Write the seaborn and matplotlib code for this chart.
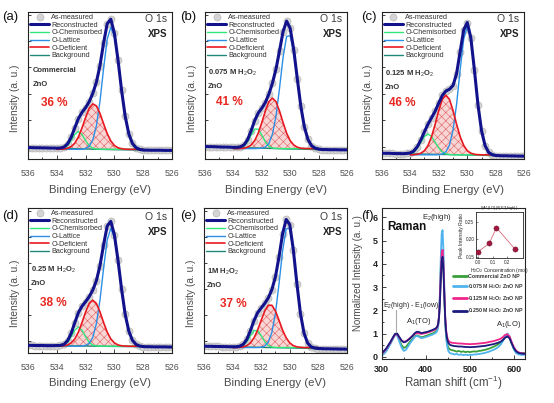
import matplotlib
matplotlib.use("Agg")
import matplotlib.pyplot as plt
import seaborn as sns
from matplotlib.ticker import MultipleLocator

# -----------------------------
# XPS O 1s data
# -----------------------------
be_full = [536.0, 535.75, 535.5, 535.25, 535.0, 534.75, 534.5, 534.25, 534.0, 533.75,
           533.5, 533.25, 533.0, 532.75, 532.5, 532.25, 532.0, 531.75, 531.5, 531.25,
           531.0, 530.75, 530.5, 530.25, 530.0, 529.75, 529.5, 529.25, 529.0, 528.75,
           528.5, 528.25, 528.0, 527.75, 527.5, 527.25, 527.0, 526.75, 526.5, 526.25, 526.0]
be_comp = [534.0, 533.75, 533.5, 533.25, 533.0, 532.75, 532.5, 532.25, 532.0, 531.75,
           531.5, 531.25, 531.0, 530.75, 530.5, 530.25, 530.0, 529.75, 529.5, 529.25,
           529.0, 528.75, 528.5, 528.25, 528.0]
be_bg = [536, 534, 532, 530, 528, 526]
be_ticks = [536, 534, 532, 530, 528, 526]

# (a) commercial ZnO
a_meas = [8.2, 8.2, 8.1, 8.1, 8.0, 8.0, 7.9, 7.9, 7.8, 7.9, 8.6, 10.9, 15.7, 22.5, 29.1,
          33.6, 37.0, 41.3, 47.3, 55.4, 67.4, 83.6, 97.5, 100.8, 90.6, 71.4, 49.4, 30.7,
          18.1, 11.2, 8.1, 6.9, 6.4, 6.4, 6.3, 6.3, 6.3, 6.3, 6.2, 6.2, 6.2]
a_chem = [7.0, 7.2, 7.8, 9.6, 13.3, 17.7, 19.8, 17.7, 13.3, 9.6, 7.8, 7.2, 7.0, 7.0, 7.0,
          7.0, 7.0, 7.0, 7.0, 7.0, 7.0, 7.0, 7.0, 7.0, 7.0]
a_latt = [7.0, 7.0, 7.0, 7.0, 7.0, 7.0, 7.0, 7.0, 7.6, 9.1, 13.7, 23.9, 41.7, 65.3, 86.4,
          95.0, 88.2, 70.6, 49.4, 31.0, 18.6, 11.7, 8.6, 7.5, 7.1]
a_defi = [7.0, 7.1, 7.2, 7.7, 8.9, 11.4, 15.9, 22.4, 29.9, 36.5, 39.7, 38.3, 32.8, 25.4,
          18.3, 13.0, 9.7, 8.1, 7.4, 7.1, 7.0, 7.0, 7.0, 7.0, 7.0]
a_bg = [8.2, 7.8, 7.2, 6.7, 6.4, 6.2]

# (b) 0.075 M H2O2
b_meas = [9.0, 8.9, 8.9, 8.8, 8.7, 8.6, 8.6, 8.5, 8.4, 8.4, 8.8, 10.2, 13.9, 20.4, 27.7,
          33.1, 36.6, 40.7, 46.8, 54.7, 64.8, 78.0, 91.9, 99.4, 94.2, 78.9, 58.0, 38.0,
          23.1, 14.1, 9.6, 7.8, 7.1, 6.8, 6.8, 6.7, 6.7, 6.7, 6.6, 6.6, 6.6]
b_chem = [7.5, 7.6, 7.9, 9.2, 12.3, 17.3, 21.5, 21.5, 17.3, 12.3, 9.2, 7.9, 7.6, 7.5, 7.5,
          7.5, 7.5, 7.5, 7.5, 7.5, 7.5, 7.5, 7.5, 7.5, 7.5]
b_latt = [7.5, 7.5, 7.5, 7.5, 7.5, 7.5, 7.5, 7.6, 7.8, 8.6, 11.2, 17.8, 30.9, 51.0, 73.3,
          88.4, 88.8, 76.6, 57.5, 38.1, 23.5, 14.6, 10.2, 8.4, 7.8]
b_defi = [7.5, 7.5, 7.6, 7.8, 8.5, 10.1, 13.2, 18.6, 26.2, 34.6, 41.3, 43.9, 41.3, 34.6,
          26.2, 18.6, 13.2, 10.1, 8.5, 7.8, 7.6, 7.5, 7.5, 7.5, 7.5]
b_bg = [9.0, 8.4, 7.8, 7.2, 6.8, 6.6]

# (c) 0.125 M H2O2
c_meas = [4.2, 4.1, 4.1, 4.0, 3.9, 3.9, 3.8, 4.0, 4.4, 5.7, 8.9, 13.8, 19.7, 25.2, 29.8,
          34.5, 40.3, 45.8, 49.0, 50.3, 52.9, 61.5, 77.4, 93.1, 98.4, 87.4, 64.3, 39.2,
          20.4, 9.6, 4.7, 3.1, 2.5, 2.4, 2.3, 2.3, 2.2, 2.2, 2.1, 2.1, 2.0]
c_chem = [3.7, 5.0, 7.9, 12.1, 16.2, 18.0, 16.2, 12.1, 7.9, 5.0, 3.7, 3.2, 3.0, 3.0, 3.0,
          3.0, 3.0, 3.0, 3.0, 3.0, 3.0, 3.0, 3.0, 3.0, 3.0]
c_latt = [3.0, 3.0, 3.0, 3.0, 3.0, 3.0, 3.0, 3.0, 3.1, 3.6, 5.2, 10.0, 20.8, 39.4, 64.2,
          86.4, 95.5, 86.4, 64.2, 39.4, 20.8, 10.0, 5.2, 3.6, 3.1]
c_defi = [3.0, 3.1, 3.4, 4.2, 6.0, 9.8, 16.2, 25.1, 35.0, 43.0, 46.0, 43.0, 35.0, 25.1,
          16.2, 9.8, 6.0, 4.2, 3.4, 3.1, 3.0, 3.0, 3.0, 3.0, 3.0]
c_bg = [4.2, 3.7, 3.3, 2.9, 2.4, 2.0]

# (d) 0.25 M H2O2
d_meas = [5.6, 5.6, 5.5, 5.5, 5.5, 5.4, 5.4, 5.4, 5.5, 5.6, 6.4, 9.0, 14.4, 22.2, 29.5,
          34.2, 37.5, 41.2, 46.0, 52.9, 63.9, 79.1, 92.8, 96.2, 86.4, 67.8, 46.5, 28.2,
          16.0, 9.3, 6.3, 5.1, 4.7, 4.6, 4.6, 4.5, 4.5, 4.5, 4.5, 4.4, 4.4]
d_chem = [5.0, 5.2, 5.8, 7.8, 11.9, 16.7, 19.0, 16.7, 11.9, 7.8, 5.8, 5.2, 5.0, 5.0, 5.0,
          5.0, 5.0, 5.0, 5.0, 5.0, 5.0, 5.0, 5.0, 5.0, 5.0]
d_latt = [5.0, 5.0, 5.0, 5.0, 5.0, 5.0, 5.0, 5.1, 5.6, 7.1, 11.5, 21.5, 38.9, 61.9, 82.6,
          91.0, 84.3, 67.1, 46.4, 28.4, 16.3, 9.6, 6.6, 5.5, 5.1]
d_defi = [5.0, 5.1, 5.3, 5.9, 7.4, 10.3, 15.3, 22.3, 30.0, 36.2, 38.6, 36.2, 30.0, 22.3,
          15.3, 10.3, 7.4, 5.9, 5.3, 5.1, 5.0, 5.0, 5.0, 5.0, 5.0]
d_bg = [5.6, 5.4, 5.1, 4.8, 4.6, 4.4]

# (e) 1 M H2O2
e_meas = [5.0, 4.9, 4.9, 4.8, 4.8, 4.7, 4.7, 4.6, 4.6, 4.6, 5.0, 6.4, 10.0, 16.4, 23.7,
          29.4, 32.9, 36.2, 40.3, 46.3, 55.8, 70.3, 87.1, 97.6, 93.9, 75.6, 50.7, 28.8,
          14.5, 7.3, 4.5, 3.6, 3.3, 3.2, 3.1, 3.1, 3.0, 3.0, 2.9, 2.9, 2.8]
e_chem = [4.0, 4.1, 4.4, 5.5, 8.3, 12.7, 16.4, 16.4, 12.7, 8.3, 5.5, 4.4, 4.1, 4.0, 4.0,
          4.0, 4.0, 4.0, 4.0, 4.0, 4.0, 4.0, 4.0, 4.0, 4.0]
e_latt = [4.0, 4.0, 4.0, 4.0, 4.0, 4.0, 4.0, 4.0, 4.3, 5.1, 7.9, 15.0, 29.1, 50.6, 74.6,
          90.8, 90.8, 74.6, 50.6, 29.1, 15.0, 7.9, 5.1, 4.3, 4.1]
e_defi = [4.0, 4.0, 4.2, 4.5, 5.4, 7.4, 11.1, 16.7, 23.9, 30.7, 34.9, 34.9, 30.7, 23.9,
          16.7, 11.1, 7.4, 5.4, 4.5, 4.2, 4.0, 4.0, 4.0, 4.0, 4.0]
e_bg = [5.0, 4.6, 4.1, 3.7, 3.2, 2.8]

# -----------------------------
# Raman data
# -----------------------------
raman_shift = [300, 305, 310, 315, 320, 325, 330, 335, 340, 345, 350, 355, 360, 365, 370,
               375, 380, 385, 390, 395, 400, 405, 410, 415, 420,
               422, 424, 426, 428, 430, 432, 434, 436, 438, 440, 442, 444, 446, 448, 450,
               452, 454, 456,
               460, 465, 470, 475, 480, 485, 490, 495, 500, 505, 510, 515, 520, 525, 530,
               535, 540, 545, 550, 555, 560, 565, 570, 575, 580, 585, 590, 595, 600, 605,
               610, 615, 620, 625]
int_commercial = [0.10, 0.18, 0.28, 0.42, 0.58, 0.77, 0.94, 0.95, 0.72, 0.50, 0.38, 0.42,
                  0.55, 0.67, 0.77, 0.88, 0.92, 0.88, 0.84, 0.86, 0.90, 0.93, 0.97, 1.00, 1.05,
                  1.08, 1.12, 1.18, 1.34, 1.72, 2.55, 3.80, 4.50, 4.60, 3.90, 2.60, 1.45, 0.90,
                  0.60, 0.45, 0.37, 0.33, 0.30,
                  0.28, 0.26, 0.22, 0.25, 0.21, 0.23, 0.20, 0.22, 0.20, 0.22, 0.23, 0.22, 0.25,
                  0.26, 0.28, 0.30, 0.33, 0.36, 0.40, 0.44, 0.49, 0.55, 0.62, 0.74, 0.87, 0.92,
                  0.82, 0.56, 0.32, 0.20, 0.17, 0.15, 0.16, 0.14]
int_075 = [0.05, 0.12, 0.22, 0.38, 0.55, 0.75, 0.93, 0.92, 0.65, 0.40, 0.25, 0.30, 0.45,
           0.60, 0.72, 0.85, 0.90, 0.85, 0.80, 0.82, 0.85, 0.88, 0.92, 0.95, 1.00,
           1.02, 1.06, 1.12, 1.30, 1.75, 2.80, 4.30, 5.30, 5.45, 4.60, 3.00, 1.60, 0.90,
           0.50, 0.32, 0.22, 0.17, 0.15,
           0.13, 0.10, 0.12, 0.08, 0.10, 0.07, 0.09, 0.07, 0.09, 0.08, 0.10, 0.10, 0.12,
           0.13, 0.15, 0.17, 0.20, 0.23, 0.27, 0.31, 0.36, 0.43, 0.53, 0.68, 0.90, 1.00,
           0.88, 0.58, 0.30, 0.15, 0.10, 0.09, 0.08, 0.09]
int_125 = [0.12, 0.22, 0.33, 0.48, 0.62, 0.80, 0.95, 0.97, 0.82, 0.70, 0.64, 0.67, 0.74,
           0.82, 0.90, 0.98, 1.02, 1.00, 0.98, 1.00, 1.02, 1.05, 1.08, 1.12, 1.16,
           1.19, 1.22, 1.28, 1.42, 1.75, 2.50, 3.60, 4.40, 4.60, 4.00, 2.80, 1.75, 1.15,
           0.88, 0.75, 0.68, 0.64, 0.62,
           0.60, 0.59, 0.58, 0.57, 0.57, 0.56, 0.55, 0.55, 0.54, 0.55, 0.55, 0.56, 0.57,
           0.58, 0.59, 0.60, 0.62, 0.64, 0.66, 0.68, 0.71, 0.74, 0.78, 0.85, 0.94, 0.97,
           0.87, 0.62, 0.40, 0.26, 0.19, 0.16, 0.15, 0.14]
int_250 = [0.15, 0.25, 0.35, 0.50, 0.65, 0.82, 0.98, 1.00, 0.85, 0.70, 0.62, 0.65, 0.72,
           0.80, 0.90, 1.02, 1.08, 1.06, 1.02, 1.04, 1.06, 1.08, 1.12, 1.15, 1.20,
           1.22, 1.25, 1.30, 1.42, 1.70, 2.30, 3.30, 4.10, 4.30, 3.70, 2.60, 1.65, 1.10,
           0.80, 0.65, 0.57, 0.53, 0.50,
           0.48, 0.46, 0.45, 0.44, 0.44, 0.43, 0.42, 0.42, 0.41, 0.42, 0.42, 0.43, 0.44,
           0.45, 0.46, 0.47, 0.49, 0.51, 0.53, 0.55, 0.58, 0.61, 0.65, 0.72, 0.82, 0.87,
           0.79, 0.56, 0.36, 0.23, 0.17, 0.14, 0.13, 0.13]
raman_labels = ["Commercial ZnO NP", "0.075 M H$_2$O$_2$ ZnO NP",
                "0.125 M H$_2$O$_2$ ZnO NP", "0.250 M H$_2$O$_2$ ZnO NP"]

# inset: peak intensity ratio
conc_mol = [0.0, 0.075, 0.125, 0.25]
peak_ratio = [0.166, 0.189, 0.233, 0.174]

# -----------------------------
# Style
# -----------------------------
sns.set_style("ticks")
plt.rcParams["font.family"] = ["Liberation Sans", "DejaVu Sans"]
plt.rcParams["mathtext.fontset"] = "custom"
plt.rcParams["mathtext.rm"] = "Liberation Sans"
plt.rcParams["mathtext.it"] = "Liberation Sans:italic"
plt.rcParams["mathtext.bf"] = "Liberation Sans:bold"
plt.rcParams["hatch.linewidth"] = 0.4

TXT = "#3a3a3a"
W, H = 554, 403


def xps_panel(ax, meas, chem, latt, defi, bg, sample, pct, txt_pos):
    sns.scatterplot(x=be_full, y=meas, ax=ax, s=26, color="#d4d4d4",
                    edgecolor="#b0b0b0", linewidth=0.4, label="As-measured", zorder=1)
    ax.fill_between(be_comp, defi, min(defi), facecolor="#f7d6d6",
                    edgecolor="#e06060", hatch="xxxx", linewidth=0, zorder=2)
    sns.lineplot(x=be_full, y=meas, ax=ax, color="#12128c", lw=2.2,
                 label="Reconstructed", zorder=6)
    sns.lineplot(x=be_comp, y=chem, ax=ax, color="#2ee87a", lw=1.0,
                 label="O-Chemisorbed", zorder=4)
    sns.lineplot(x=be_comp, y=latt, ax=ax, color="#2b8fe6", lw=1.0,
                 label="O-Lattice", zorder=4)
    sns.lineplot(x=be_comp, y=defi, ax=ax, color="#e81820", lw=1.2,
                 label="O-Deficient", zorder=5)
    sns.lineplot(x=be_bg, y=bg, ax=ax, color="#1f8878", lw=1.0,
                 label="Background", zorder=3)

    ax.set_xlim(536, 526)
    ax.set_ylim(0, 106)
    ax.set_xticks(be_ticks)
    ax.xaxis.set_minor_locator(MultipleLocator(1))
    ax.set_yticks([9, 28, 47, 66, 85, 104])
    ax.set_yticklabels([])
    ax.tick_params(axis="both", which="both", direction="in", colors="#222222",
                   labelcolor="#505050", width=0.6)
    ax.tick_params(axis="x", which="major", length=3, pad=7, labelsize=6.3)
    ax.tick_params(axis="x", which="minor", length=1.8)
    ax.tick_params(axis="y", length=2)
    for sp in ax.spines.values():
        sp.set_linewidth(0.8)
        sp.set_color("#222222")

    ax.set_xlabel("Binding Energy (eV)", fontsize=8.2, color="#4a4a4a")
    ax.xaxis.set_label_coords(0.5, -0.175)
    ax.set_ylabel("Intensity (a. u.)", fontsize=7.3, color="#4a4a4a")
    ax.yaxis.set_label_coords(-0.058, 0.41)

    leg = ax.legend(loc="upper left", bbox_to_anchor=(0.0, 1.0), frameon=False,
                    fontsize=5.2, handlelength=2.6, handletextpad=0.35,
                    labelspacing=0.08, borderaxespad=0.2, borderpad=0.1,
                    markerscale=1.0)
    for t in leg.get_texts():
        t.set_color("#333333")

    ytop = txt_pos[0]
    ax.text(0.965, ytop, "O 1s", transform=ax.transAxes, ha="right", va="center",
            fontsize=7.5, color=TXT)
    ax.text(0.965, ytop - 0.105, "XPS", transform=ax.transAxes, ha="right",
            va="center", fontsize=7, fontweight="bold", color="#222222")
    sx, sy = txt_pos[1]
    ax.text(sx, sy, sample, transform=ax.transAxes, ha="left", va="center",
            fontsize=5.5, fontweight="bold", color="#333333")
    ax.text(sx, sy - 0.095, "ZnO", transform=ax.transAxes, ha="left", va="center",
            fontsize=5.5, fontweight="bold", color="#333333")
    px, py = txt_pos[2]
    ax.text(px, py, pct, transform=ax.transAxes, ha="left", va="center",
            fontsize=8.5, fontweight="bold", color="#e8261f")


def main():
    fig = plt.figure(figsize=(W / 100, H / 100), dpi=100)

    ax_a = fig.add_axes([0.0505, 0.6055, 0.260, 0.3648])
    ax_b = fig.add_axes([0.370, 0.6055, 0.2563, 0.3648])
    ax_c = fig.add_axes([0.689, 0.6055, 0.2574, 0.3648])
    ax_d = fig.add_axes([0.0505, 0.124, 0.260, 0.360])
    ax_e = fig.add_axes([0.3682, 0.124, 0.258, 0.360])
    ax_f = fig.add_axes([0.689, 0.109, 0.2587, 0.3747])

    xps_panel(ax_a, a_meas, a_chem, a_latt, a_defi, a_bg, "Commercial", "36 %",
              (0.952, (0.03, 0.60), (0.09, 0.38)))
    xps_panel(ax_b, b_meas, b_chem, b_latt, b_defi, b_bg, "0.075 M H$_2$O$_2$", "41 %",
              (0.952, (0.02, 0.587), (0.077, 0.39)))
    xps_panel(ax_c, c_meas, c_chem, c_latt, c_defi, c_bg, "0.125 M H$_2$O$_2$", "46 %",
              (0.952, (0.02, 0.578), (0.054, 0.38)))
    xps_panel(ax_d, d_meas, d_chem, d_latt, d_defi, d_bg, "0.25 M H$_2$O$_2$", "38 %",
              (0.94, (0.02, 0.572), (0.083, 0.347)))
    xps_panel(ax_e, e_meas, e_chem, e_latt, e_defi, e_bg, "1M H$_2$O$_2$", "37 %",
              (0.94, (0.02, 0.56), (0.112, 0.337)))

    # -----------------------------
    # Raman panel (f)
    # -----------------------------
    raman_series = [int_commercial, int_075, int_125, int_250]
    raman_colors = ["#3a9f3a", "#4fb4ee", "#f0258c", "#1b1b7e"]
    for vals, col, lab in zip(raman_series, raman_colors, raman_labels):
        sns.lineplot(x=raman_shift, y=vals, ax=ax_f, color=col, lw=1.3, label=lab)
    ax_f.set_xlim(300, 625)
    ax_f.set_ylim(-0.1, 6.4)
    ax_f.set_xticks([300, 400, 500, 600])
    ax_f.set_yticks(range(7))
    ax_f.xaxis.set_minor_locator(MultipleLocator(50))
    ax_f.yaxis.set_minor_locator(MultipleLocator(0.5))
    ax_f.tick_params(axis="both", which="both", direction="in", width=0.6,
                     colors="#222222", labelsize=6.5)
    ax_f.tick_params(axis="x", which="major", length=3, pad=4)
    ax_f.tick_params(axis="y", which="major", length=3, pad=3)
    ax_f.tick_params(which="minor", length=1.6)
    for lbl in ax_f.get_xticklabels() + ax_f.get_yticklabels():
        lbl.set_fontweight("bold")
    for sp in ax_f.spines.values():
        sp.set_linewidth(0.8)
    ax_f.set_xlabel("Raman shift (cm$^{-1}$)", fontsize=8.3, color="#4a4a4a")
    ax_f.xaxis.set_label_coords(0.5, -0.1)
    ax_f.set_ylabel("Normalized Intensity (a. u.)", fontsize=7, color="#4a4a4a")
    ax_f.yaxis.set_label_coords(-0.13, 0.57)
    leg = ax_f.legend(loc="upper left", bbox_to_anchor=(0.5, 0.565), frameon=False,
                      prop={"size": 3.8, "weight": "bold"}, handlelength=2.6,
                      handletextpad=0.2, labelspacing=0.62, borderpad=0.0,
                      borderaxespad=0.0)
    for ln in leg.get_lines():
        ln.set_linewidth(2.0)
    for t in leg.get_texts():
        t.set_color("#333333")

    ax_f.text(312, 5.6, "Raman", fontsize=8.5, fontweight="bold", ha="left",
              va="center", color="#111111")
    ax_f.text(424, 6.0, "E$_2$(high)", fontsize=5.5, ha="center", va="center")
    ax_f.text(302, 2.2, "E$_2$(high) - E$_1$(low)", fontsize=5, ha="left",
              va="center")
    ax_f.plot([332, 332], [1.08, 2.02], color="#aaaaaa", lw=0.8)
    ax_f.text(385, 1.5, "A$_1$(TO)", fontsize=5.5, ha="center", va="center")
    ax_f.text(588, 1.4, "A$_1$(LO)", fontsize=5.5, ha="center", va="center")

    # inset
    ax_i = fig.add_axes([0.8587, 0.359, 0.0848, 0.114])
    ax_i.plot(conc_mol, peak_ratio, color="#d96a7e", lw=0.6, zorder=2)
    sns.scatterplot(x=conc_mol, y=peak_ratio, ax=ax_i, s=14, color="#a3173f",
                    edgecolor="#5a0a20", linewidth=0.3, zorder=3)
    ax_i.set_xlim(-0.018, 0.306)
    ax_i.set_ylim(0.147, 0.276)
    ax_i.set_xticks([0.0, 0.1, 0.2])
    ax_i.set_xticklabels(["0.0", "0.1", "0.2"])
    ax_i.set_yticks([0.15, 0.20, 0.25])
    ax_i.set_yticklabels(["0.15", "0.20", "0.25"])
    ax_i.tick_params(direction="in", length=1.5, width=0.4, labelsize=3.3, pad=1)
    for sp in ax_i.spines.values():
        sp.set_linewidth(0.6)
    ax_i.set_xlabel("H$_2$O$_2$ Concentration (mol)", fontsize=3.6, labelpad=1)
    ax_i.set_ylabel("Peak Intensity Ratio", fontsize=3.6, labelpad=1)
    ax_i.set_title("I(A$_1$(LO))/I(E$_2$(high))", fontsize=3, pad=1.5)

    # panel labels
    for lab, x, y in [("(a)", 2, 17), ("(b)", 180, 17), ("(c)", 361, 17),
                      ("(d)", 2, 216), ("(e)", 180, 216), ("(f)", 361, 216)]:
        fig.text(x / W, 1 - y / H, lab, fontsize=9.5, ha="left", va="center",
                 color="#111111")

    fig.savefig("out.png", dpi=100)
    plt.close(fig)


if __name__ == "__main__":
    main()
